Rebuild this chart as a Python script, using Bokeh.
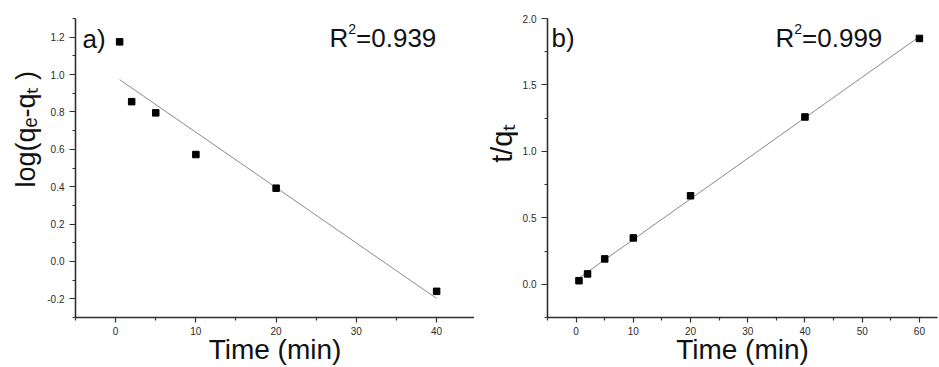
import numpy as np
from bokeh.plotting import figure
from bokeh.layouts import row
from bokeh.models import Label, FixedTicker, PrintfTickFormatter
from bokeh.embed import file_html
from bokeh.resources import INLINE

# Pseudo-first-order kinetics: log(qe - qt) against contact time
time_a = [0.5, 2, 5, 10, 20, 40]
log_qe_qt = [1.175, 0.855, 0.795, 0.572, 0.392, -0.16]
r2_a = "0.939"

# Pseudo-second-order kinetics: t/qt against contact time
time_b = [0.5, 2, 5, 10, 20, 40, 60]
t_over_qt = [0.027, 0.078, 0.191, 0.349, 0.666, 1.259, 1.85]
r2_b = "0.999"

x_ticks_a = [0, 10, 20, 30, 40]
x_minor_a = [-5, 5, 15, 25, 35, 45]
y_ticks_a = [-0.2, 0.0, 0.2, 0.4, 0.6, 0.8, 1.0, 1.2]
y_minor_a = [-0.3, -0.1, 0.1, 0.3, 0.5, 0.7, 0.9, 1.1, 1.3]

x_ticks_b = [0, 10, 20, 30, 40, 50, 60]
x_minor_b = [-5, 5, 15, 25, 35, 45, 55]
y_ticks_b = [0.0, 0.5, 1.0, 1.5, 2.0]
y_minor_b = [-0.25, 0.25, 0.75, 1.25, 1.75]

ylabel_a = "log(q\u2091-q\u209c )"
ylabel_b = "t/q\u209c"
xlabel = "Time (min)"

FONT = "Liberation Sans"
AXIS_COLOR = "#303030"
H = 367

# Arial advance widths (per em) for laying out mixed-size text runs
ADV = {"R": .722, "=": .584, ".": .278, "a": .556, "b": .556, ")": .333}
for d in "0123456789":
    ADV[d] = .556


def run_width(text, size):
    return sum(ADV.get(c, .556) for c in text) * size


def rich_text(fig, pieces, x0, y0):
    """Horizontal text runs (text, size, raise) placed left to right."""
    pos = 0.0
    for text, size, shift in pieces:
        fig.add_layout(Label(x=x0 + pos, y=y0 + shift, x_units="screen",
                             y_units="screen", text=text, text_font=FONT,
                             text_font_size=f"{size}px", text_color="#111111",
                             text_align="left", text_baseline="alphabetic"))
        pos += run_width(text, size)


def label_strip(width, text, size, cx, cy):
    """Narrow blank figure holding a vertical axis title centred at (cx, cy)."""
    s = figure(width=width, height=H, x_range=(0, width), y_range=(0, H),
               output_backend="svg", toolbar_location=None,
               x_axis_location=None, y_axis_location=None,
               min_border=0)
    s.outline_line_color = None
    s.xgrid.visible = False
    s.ygrid.visible = False
    s.add_layout(Label(x=cx, y=H - cy, text=text, angle=np.pi / 2,
                       text_font=FONT, text_font_size=f"{size}px",
                       text_color="#111111", text_align="center",
                       text_baseline="middle"))
    return s


def make_panel(width, left, right, xr, yr, xt, xm, yt, ym, yfmt):
    p = figure(width=width, height=H, x_range=xr, y_range=yr,
               output_backend="svg", toolbar_location=None,
               min_border_left=left, min_border_right=right,
               min_border_top=18, min_border_bottom=50)
    p.outline_line_color = None
    p.xgrid.visible = False
    p.ygrid.visible = False
    p.xaxis.ticker = FixedTicker(ticks=xt, minor_ticks=xm)
    p.yaxis.ticker = FixedTicker(ticks=yt, minor_ticks=ym)
    p.xaxis.formatter = PrintfTickFormatter(format="%d")
    p.yaxis.formatter = PrintfTickFormatter(format=yfmt)
    for ax in (p.xaxis, p.yaxis):
        ax.axis_line_color = AXIS_COLOR
        ax.axis_line_width = 1.6
        ax.major_tick_line_color = AXIS_COLOR
        ax.minor_tick_line_color = AXIS_COLOR
        ax.major_tick_line_width = 1.2
        ax.minor_tick_line_width = 1.2
        ax.major_tick_in = 0
        ax.minor_tick_in = 0
        ax.major_label_text_font = FONT
        ax.major_label_text_font_size = "10px"
        ax.major_label_text_color = "#2a2a2a"
    p.xaxis.major_tick_out = 5
    p.xaxis.minor_tick_out = 3
    p.yaxis.major_tick_out = 6
    p.yaxis.minor_tick_out = 3
    p.xaxis.major_label_standoff = 4
    p.yaxis.major_label_standoff = 5
    p.xaxis.axis_label = xlabel
    p.xaxis.axis_label_text_font = FONT
    p.xaxis.axis_label_text_font_size = "28px"
    p.xaxis.axis_label_text_font_style = "normal"
    p.xaxis.axis_label_text_color = "#111111"
    p.xaxis.axis_label_standoff = -4
    return p


def add_fit(p, xs, ys):
    k, b = np.polyfit(xs, ys, 1)
    fx = np.array([min(xs), max(xs)])
    p.line(fx, k * fx + b, line_color="#8a8a8a", line_width=1)
    p.scatter(xs, ys, marker="square", size=6.5, color="black")


# Panel a: vertical title strip, then the plot
sa = label_strip(44, ylabel_a, 27, 25, 136)
pa = make_panel(430, 31, 0, (-5, 44.72), (-0.3, 1.3),
                x_ticks_a, x_minor_a, y_ticks_a, y_minor_a, "%.1f")
add_fit(pa, time_a, log_qe_qt)
rich_text(pa, [("a)", 26, 0)], 7, 279)
rich_text(pa, [("R", 26, 0), ("2", 14, 9.5), ("=" + r2_a, 26, 0)], 254, 279.5)

# Panel b
sb = label_strip(44, ylabel_b, 29, 27, 153)
pb = make_panel(421, 29, 2, (-5, 63.16), (-0.25, 2.0),
                x_ticks_b, x_minor_b, y_ticks_b, y_minor_b, "%.1f")
add_fit(pb, time_b, t_over_qt)
rich_text(pb, [("b)", 26, 0)], 4, 280)
rich_text(pb, [("R", 26, 0), ("2", 14, 9.5), ("=" + r2_b, 26, 0)], 228, 279.5)

layout = row(sa, pa, sb, pb)
open("out.html", "w").write(file_html(layout, INLINE))
